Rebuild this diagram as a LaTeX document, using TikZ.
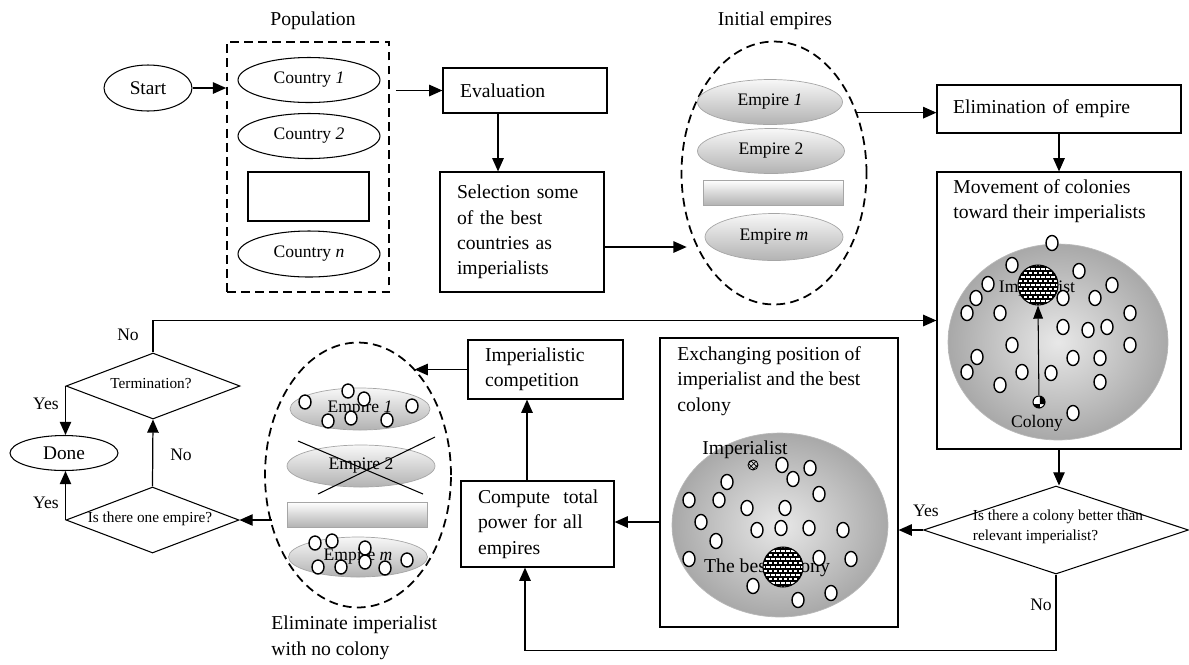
\documentclass[tikz,border=0pt]{standalone}
\usepackage{fontspec}
\setmainfont{Liberation Serif}
\usetikzlibrary{shapes.geometric, arrows.meta, patterns, calc}
\tikzset{
 lab/.style={font=\fontsize{11.2}{14.5}\selectfont},
 small/.style={font=\fontsize{10}{12}\selectfont},
 tiny/.style={font=\fontsize{8.7}{11.5}\selectfont},
 box/.style={draw, line width=0.7pt, inner xsep=0.34cm, inner ysep=0pt, align=left, font=\fontsize{11.2}{14.5}\selectfont},
 frame/.style={draw, line width=0.7pt, inner sep=0pt},
 oval/.style={draw, ellipse, line width=0.6pt, inner sep=0pt, font=\fontsize{10}{12}\selectfont},
 empire/.style={draw=gray!70, ellipse, inner sep=0pt, top color=gray!6, bottom color=gray!60, font=\fontsize{10}{12}\selectfont},
 bar/.style={draw=gray!70, rectangle, inner sep=0pt, top color=white, bottom color=gray!60},
 dia/.style={draw, diamond, inner sep=0pt, line width=0.6pt},
 arr/.style={-{Triangle[length=7.5pt,width=6.5pt]}, line width=0.7pt},
 col/.style={draw, fill=white, line width=0.8pt},
 grp/.style={draw, line width=1pt, dash pattern=on 5pt off 3pt},
 world/.style={inner color=gray!18, outer color=gray!68, draw=gray!55},
 brickball/.style={circle, draw, line width=0.6pt, fill=black, inner sep=0pt,
   path picture={
     \foreach \r in {-6,...,6}{
       \foreach \c in {-6,...,6}{
         \fill[white] ([xshift={\c*0.1cm+mod(\r+6,2)*0.05cm-0.04cm}, yshift={\r*0.08cm-0.028cm}]path picture bounding box.center) rectangle ++(0.075cm,0.055cm);
       }}}},
}
\begin{document}
\begin{tikzpicture}[x=0.02cm,y=-0.02cm]
\useasboundingbox (0,0) rectangle (1189,664);

% ---------- top row ----------
\node[oval, font=\fontsize{11}{13}\selectfont, minimum width=1.76cm, minimum height=0.92cm] (start) at (148,88) {Start};

\node[lab] (poplab) at (313,21) {Population};
\node[grp, minimum width=3.24cm, minimum height=5cm] (pop) at (308,167) {};
\node[oval, minimum width=2.84cm, minimum height=0.9cm] (c1) at (309,80) {Country \textit{1}};
\node[oval, minimum width=2.84cm, minimum height=0.9cm] (c2) at (309,136) {Country \textit{2}};
\node[frame, line width=0.6pt, minimum width=2.42cm, minimum height=0.98cm] (cdots) at (308.5,196.5) {};
\node[oval, minimum width=2.84cm, minimum height=0.92cm] (cn) at (309,254) {Country \textit{n}};

\node[box, text width=2.6cm, minimum height=0.9cm] (eval) at (525,90.5) {Evaluation};
\node[box, text width=2.6cm, minimum height=2.4cm] (sel) at (522,232) {Selection some\\of the best\\countries as\\imperialists};

\node[lab] (ielab) at (775,21) {Initial empires};
\node[grp, ellipse, minimum width=3.7cm, minimum height=5.26cm] (iemp) at (774,173) {};
\node[empire, minimum width=2.9cm, minimum height=0.9cm] (e1) at (770,102) {Empire \textit{1}};
\node[empire, minimum width=2.94cm, minimum height=0.9cm] (e2) at (771,151) {Empire 2};
\node[bar, minimum width=2.8cm, minimum height=0.5cm] (edots) at (773,192.5) {};
\node[empire, minimum width=2.76cm, minimum height=0.94cm] (em) at (774,237) {Empire \textit{m}};

\node[box, inner xsep=0.32cm, text width=4.24cm, minimum height=0.96cm] (elim) at (1059,109) {Elimination of empire};

% ---------- movement box ----------
\node[frame, minimum width=4.88cm, minimum height=5.54cm] (move) at (1059,310.5) {};
\node[lab, anchor=north west, align=left, inner sep=0pt] (movetxt) at (953,179) {Movement of colonies\\toward their imperialists};
\shade[world] (1058,342) ellipse [x radius=2.2cm, y radius=1.96cm];
\node[small, inner sep=0pt] (implab) at (1037,288) {Imperialist};
\node[small, inner sep=0pt] (collab) at (1037,423) {Colony};
\foreach \x/\y in {1052/243, 1012/265, 1079/271, 988/284, 1112/285, 976/298, 1063/298, 1095/298, 967/313, 1000/313, 1130/313, 1063/327, 1088/330, 1107/327, 1012/345, 1130/345, 977/357, 1073/358, 1100/358, 967/372, 1022/372, 1051/373, 1100/382, 1000/385, 1073/413}
  \draw[col] (\x,\y) ellipse [x radius=0.12cm, y radius=0.15cm];
\node[brickball, minimum size=0.8cm] (impball) at (1038,285) {};
\node[circle, draw, line width=0.6pt, fill=white, inner sep=0pt, minimum size=0.24cm,
  path picture={\fill[pattern=checkerboard, pattern color=black] (path picture bounding box.south west) rectangle (path picture bounding box.north east);}] (colball) at (1039,402) {};
\draw[-{Triangle[length=7.5pt,width=5.5pt]}, line width=0.6pt] (colball) -- (impball.south);

% ---------- colony decision ----------
\node[dia, minimum width=5.3cm, minimum height=1.76cm] (coldia) at (1056,530) {};
\node[tiny, align=left, inner sep=0pt] (coldiatxt) at (1058,527) {Is there a colony better than\\relevant imperialist?};

% ---------- exchanging box ----------
\node[frame, minimum width=4.76cm, minimum height=5.78cm] (exch) at (779,482.5) {};
\node[lab, anchor=north west, align=left, inner sep=0pt] (exchtxt) at (677,346) {Exchanging position of\\imperialist and the best\\colony};
\shade[world] (780,525) ellipse [x radius=2.16cm, y radius=1.84cm];
\node[lab, inner sep=0pt] (implab2) at (745,450) {Imperialist};
\node[lab, inner sep=0pt] (bestlab) at (767,568) {The best colony};
\foreach \x/\y in {782/465, 810/468, 793/479, 727/482, 819/494, 689/500, 719/500, 747/508, 785/508, 701/522, 757/530, 781/528, 809/528, 843/530, 716/541, 689/559, 819/558, 851/559, 753/586, 831/593, 798/600}
  \draw[col] (\x,\y) ellipse [x radius=0.12cm, y radius=0.15cm];
\node[circle, draw, line width=0.5pt, fill=gray!30, inner sep=0pt, minimum size=0.2cm,
  path picture={\fill[pattern=crosshatch, pattern color=black] (path picture bounding box.south west) rectangle (path picture bounding box.north east);}] (impsmall) at (753,465) {};
\node[brickball, minimum size=0.8cm] (bestball) at (783,567) {};

% ---------- compute / competition ----------
\node[box, text width=2.38cm, minimum height=1.72cm] (comp) at (537.5,524) {\mbox{Compute\ \ total}\\power for all\\empires};
\node[box, text width=2.42cm, minimum height=1.18cm] (impc) at (545.5,369.5) {Imperialistic\\competition};

% ---------- eliminate imperialist ----------
\node[grp, ellipse, minimum width=3.72cm, minimum height=5.3cm] (elimell) at (358,475) {};
\node[empire, minimum width=2.8cm, minimum height=0.84cm] (f1) at (360,409) {Empire \textit{1}};
\node[empire, minimum width=2.96cm, minimum height=0.84cm] (f2) at (361,466) {Empire 2};
\node[bar, minimum width=2.8cm, minimum height=0.5cm] (fdots) at (357,514.5) {};
\node[empire, minimum width=2.78cm, minimum height=0.8cm] (fm) at (358,557) {Empire \textit{m}};
\draw[line width=0.6pt] (298,441) -- (423,494);
\draw[line width=0.6pt] (435,437) -- (318,494);
\foreach \x/\y in {305/402, 348/391, 364/399, 412/406, 328/421, 351/418, 387/420, 315/543, 332/541, 365/548, 365/562, 318/567, 341/567, 385/568, 407/560}
  \draw[col] (\x,\y) ellipse [x radius=0.12cm, y radius=0.14cm];
\node[lab, anchor=west, align=left, inner sep=0pt] (elimlab) at (271,638) {Eliminate imperialist\\with no colony};

% ---------- left decisions ----------
\node[dia, minimum width=3.46cm, minimum height=1.32cm] (onedia) at (152.5,520) {};
\node[tiny, inner sep=0pt] (onetxt) at (150,519) {Is there one empire?};
\node[dia, minimum width=3.48cm, minimum height=1.32cm] (termdia) at (153,386) {};
\node[tiny, inner sep=0pt] (termtxt) at (151,384) {Termination?};
\node[oval, font=\fontsize{11}{13}\selectfont, minimum width=2.16cm, minimum height=0.7cm] (done) at (64,453) {Done};

% ---------- connectors ----------
\draw[arr] (start.east) -- (start.east -| pop.west);
\draw[arr] ([xshift=0.12cm]eval.west -| pop.east) -- (eval.west);
\draw[arr] ([xshift=-0.54cm]eval.south) -- ([xshift=-0.54cm]eval.south |- sel.north);
\draw[arr] ([yshift=-0.3cm]sel.east) -- ([yshift=-0.3cm,xshift=0.12cm]sel.east -| iemp.west);
\draw[arr] (iemp.36.6) -- (iemp.36.6 -| elim.west);
\draw[arr] (elim.south) -- (elim.south |- move.north);
\draw[arr] (move.south) -- (move.south |- coldia.north);
\draw[arr] (coldia.west) -- (coldia.west -| exch.east);
\draw[arr] (coldia.south) |- ([xshift=-0.25cm, yshift=-1.66cm]comp.south) -- ([xshift=-0.25cm]comp.south);
\draw[arr] ([yshift=-0.79cm]exch.west) -- ([yshift=-0.79cm]exch.west -| comp.east);
\draw[arr] ([xshift=-0.21cm]comp.north) -- ([xshift=-0.21cm]comp.north |- impc.south);
\draw[arr] (impc.west) -- (impc.west -| elimell.62.8);
\draw[arr] ([xshift=0.16cm]onedia.east -| elimell.west) -- (onedia.east);
\draw[arr] (onedia.north) -- (termdia.south);
\draw[arr] (onedia.west) -- (onedia.west |- done.south);
\draw[arr] (termdia.west) -- (termdia.west |- done.north);
\draw[arr] (termdia.north) |- ([yshift=-0.2cm]move.west);

% ---------- branch labels ----------
\node[small] (lno1) at (128,335) {No};
\node[small] (lyes1) at (46,404) {Yes};
\node[small] (lyes2) at (46,503) {Yes};
\node[small] (lno2) at (181,455) {No};
\node[small] (lyes3) at (926,511) {Yes};
\node[small] (lno3) at (1041,605) {No};
\end{tikzpicture}
\end{document}
